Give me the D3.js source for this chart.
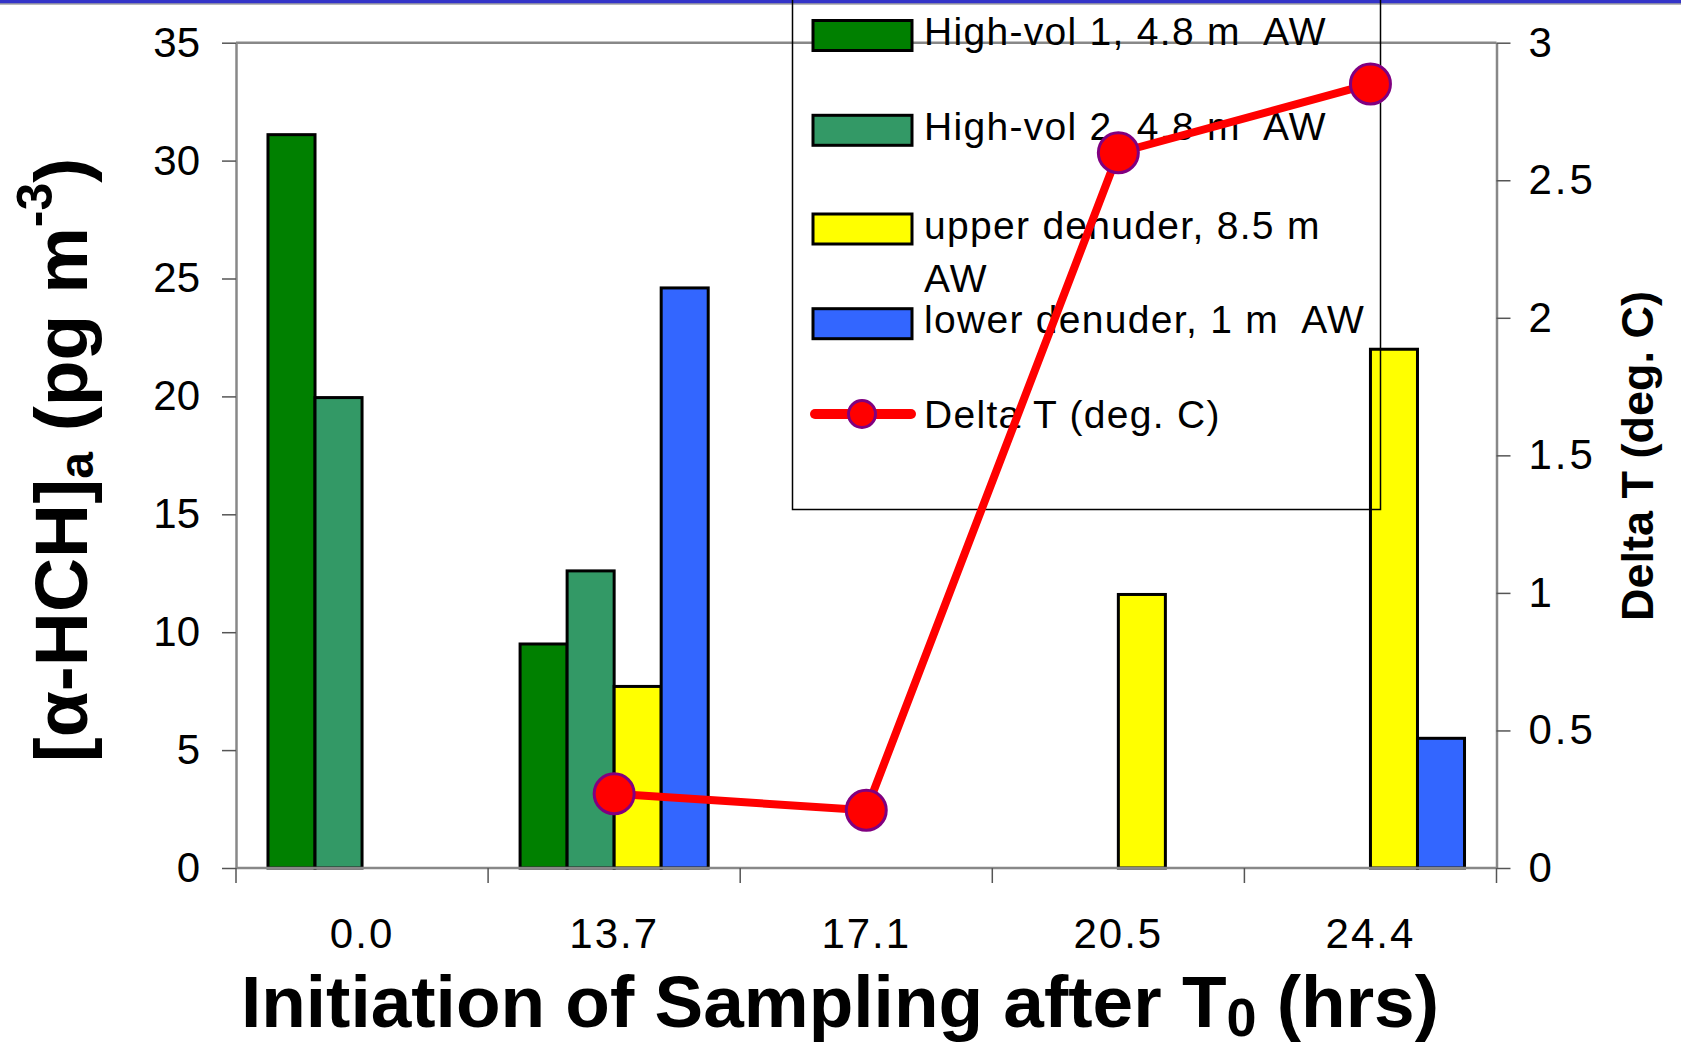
<!DOCTYPE html>
<html lang="en">

<head>
    <meta charset="UTF-8">
    <title>alpha-HCH</title>
    <script src="https://d3js.org/d3.v7.min.js"></script>
    <style>
        body { margin: 0; background: #fff; }
        text { font-family: "Liberation Sans", Arial, sans-serif; fill: #000; }
    </style>
</head>

<body>
    <script>
        // data
        var categories = ["0.0", "13.7", "17.1", "20.5", "24.4"];
        var seriesNames = ["High-vol 1, 4.8 m  AW", "High-vol 2, 4.8 m  AW", "upper denuder, 8.5 m AW", "lower denuder, 1 m  AW"];
        var highVol1 = [31.1, 9.5, null, null, null];
        var highVol2 = [19.95, 12.6, null, null, null];
        var upperDenuder = [null, 7.7, null, 11.6, 22.0];
        var lowerDenuder = [null, 24.6, null, null, 5.5];
        var deltaT = [null, 0.27, 0.21, 2.6, 2.85];
        var leftTicks = [0, 5, 10, 15, 20, 25, 30, 35];
        var rightTicks = [0, 0.5, 1, 1.5, 2, 2.5, 3];
        var lineName = "Delta T (deg. C)";

        var colors = ["#008000", "#339966", "#ffff00", "#3366ff"];
        var width = 1681;
        var height = 1049;
        var plot = { left: 236, right: 1496.5, top: 42.7, bottom: 868 };

        var svg = d3.select("body").append("svg")
            .attr("width", width)
            .attr("height", height);

        // blue band on top of slide
        svg.append("rect").attr("x", 0).attr("y", 0).attr("width", width).attr("height", 3.5).attr("fill", "#3434c8");
        svg.append("rect").attr("x", 0).attr("y", 3.5).attr("width", width).attr("height", 1).attr("fill", "#777");

        var x0 = d3.scaleBand().domain(categories).range([plot.left, plot.right]);
        var x1 = d3.scaleBand().domain(d3.range(4)).range([0, x0.bandwidth()]).paddingOuter(0.68);
        var yL = d3.scaleLinear().domain([0, 35]).range([plot.bottom, plot.top]);
        var yR = d3.scaleLinear().domain([0, 3]).range([plot.bottom, plot.top]);

        // top frame line
        svg.append("line")
            .attr("x1", plot.left).attr("x2", plot.right)
            .attr("y1", plot.top).attr("y2", plot.top)
            .attr("stroke", "#888").attr("stroke-width", 2.5);

        // bars
        var barSeries = [highVol1, highVol2, upperDenuder, lowerDenuder];
        var barData = [];
        barSeries.forEach(function (s, si) {
            s.forEach(function (v, ci) {
                if (v != null) barData.push({ s: si, c: categories[ci], v: v });
            });
        });
        svg.append("g").selectAll("rect")
            .data(barData)
            .enter()
            .append("rect")
            .attr("x", function (d) { return x0(d.c) + x1(d.s); })
            .attr("width", x1.bandwidth())
            .attr("y", function (d) { return yL(d.v); })
            .attr("height", function (d) { return yL(0) - yL(d.v); })
            .attr("fill", function (d) { return colors[d.s]; })
            .attr("stroke", "#000")
            .attr("stroke-width", 3);

        // left axis
        var gL = svg.append("g")
            .attr("transform", "translate(" + plot.left + ",0)")
            .call(d3.axisLeft(yL).tickValues(leftTicks).tickSize(14).tickPadding(22).tickSizeOuter(0));
        // right axis
        var gR = svg.append("g")
            .attr("transform", "translate(" + plot.right + ",0)")
            .call(d3.axisRight(yR).tickValues(rightTicks).tickSize(14).tickPadding(18).tickSizeOuter(0)
                .tickFormat(d3.format("~g")));
        // bottom axis: labels at band centres, ticks at band edges
        var gB = svg.append("g")
            .attr("transform", "translate(0," + plot.bottom + ")")
            .call(d3.axisBottom(x0).tickSize(0).tickPadding(50).tickSizeOuter(0));
        var edges = categories.map(function (c) { return x0(c); }).concat([x0.range()[1]]);
        gB.selectAll(".edge")
            .data(edges)
            .enter()
            .append("line")
            .attr("class", "edge")
            .attr("x1", function (d) { return d; }).attr("x2", function (d) { return d; })
            .attr("y1", 0).attr("y2", 15)
            .attr("stroke", "#555").attr("stroke-width", 1.5);

        [gL, gR, gB].forEach(function (g) {
            g.select(".domain").attr("stroke", "#888").attr("stroke-width", 2.5);
            g.selectAll(".tick line").attr("stroke", "#555").attr("stroke-width", 1.5);
            g.selectAll(".tick text")
                .attr("font-size", 42)
                .attr("font-family", "Liberation Sans, Arial, sans-serif")
                .attr("fill", "#000");
        });
        gR.selectAll(".tick text").attr("letter-spacing", 3);
        gB.selectAll(".tick text").attr("letter-spacing", 2);
        gB.select(".domain").attr("d", "M" + plot.left + ",0H" + plot.right);

        // legend (no fill, drawn under the line)
        var legend = svg.append("g");
        legend.append("rect")
            .attr("x", 792.5).attr("y", -2)
            .attr("width", 588).attr("height", 511.5)
            .attr("fill", "none").attr("stroke", "#000").attr("stroke-width", 1.5);
        var legendRowY = [35.5, 130.3, 229, 323.7];
        var legFont = 39, legSpace = 1.3;
        seriesNames.forEach(function (name, i) {
            legend.append("rect")
                .attr("x", 813).attr("y", legendRowY[i] - 15)
                .attr("width", 99).attr("height", 30)
                .attr("fill", colors[i]).attr("stroke", "#000").attr("stroke-width", 3);
            var t = legend.append("text")
                .attr("x", 924).attr("y", legendRowY[i] + 9.5)
                .attr("font-size", legFont).attr("letter-spacing", legSpace)
                .attr("xml:space", "preserve");
            if (i === 2) {
                t.text("upper denuder, 8.5 m");
                legend.append("text").attr("x", 924).attr("y", legendRowY[i] + 62.5)
                    .attr("font-size", legFont).attr("letter-spacing", legSpace).text("AW");
            } else {
                t.text(name);
            }
        });
        legend.append("line")
            .attr("x1", 815).attr("x2", 911).attr("y1", 414).attr("y2", 414)
            .attr("stroke", "#ff0000").attr("stroke-width", 10).attr("stroke-linecap", "round");
        legend.append("circle")
            .attr("cx", 862).attr("cy", 414).attr("r", 13.5)
            .attr("fill", "#ff0000").attr("stroke", "#800080").attr("stroke-width", 3);
        legend.append("text").attr("x", 924).attr("y", 428)
            .attr("font-size", legFont).attr("letter-spacing", legSpace).text(lineName);

        // delta T line
        var pts = deltaT.map(function (v, i) { return { c: categories[i], v: v }; });
        var line = d3.line()
            .defined(function (d) { return d.v != null; })
            .x(function (d) { return x0(d.c) + x0.bandwidth() / 2; })
            .y(function (d) { return yR(d.v); });
        svg.append("path")
            .datum(pts)
            .attr("d", line)
            .attr("fill", "none")
            .attr("stroke", "#ff0000")
            .attr("stroke-width", 8)
            .attr("stroke-linejoin", "round");
        svg.append("g").selectAll("circle")
            .data(pts.filter(function (d) { return d.v != null; }))
            .enter()
            .append("circle")
            .attr("cx", function (d) { return x0(d.c) + x0.bandwidth() / 2; })
            .attr("cy", function (d) { return yR(d.v); })
            .attr("r", 20)
            .attr("fill", "#ff0000")
            .attr("stroke", "#800080")
            .attr("stroke-width", 3);

        // axis titles
        var tL = svg.append("text")
            .attr("transform", "translate(87,460) rotate(-90)")
            .attr("text-anchor", "middle")
            .attr("font-size", 75)
            .attr("font-weight", "bold");
        tL.append("tspan").text("[α-HCH]");
        tL.append("tspan").attr("font-size", 48).attr("dy", 6).text("a");
        tL.append("tspan").attr("dy", -6).text(" (pg m");
        tL.append("tspan").attr("font-size", 50).attr("dy", -35).text("-3");
        tL.append("tspan").attr("dy", 35).text(")");

        svg.append("text")
            .attr("transform", "translate(1653,456) rotate(-90)")
            .attr("text-anchor", "middle")
            .attr("font-size", 45)
            .attr("font-weight", "bold")
            .text("Delta T (deg. C)");

        var tB = svg.append("text")
            .attr("x", 840).attr("y", 1027)
            .attr("text-anchor", "middle")
            .attr("font-size", 73)
            .attr("font-weight", "bold");
        tB.append("tspan").text("Initiation of Sampling after T");
        tB.append("tspan").attr("font-size", 54).attr("dy", 9).text("0");
        tB.append("tspan").attr("dy", -9).text(" (hrs)");
    </script>
</body>

</html>
